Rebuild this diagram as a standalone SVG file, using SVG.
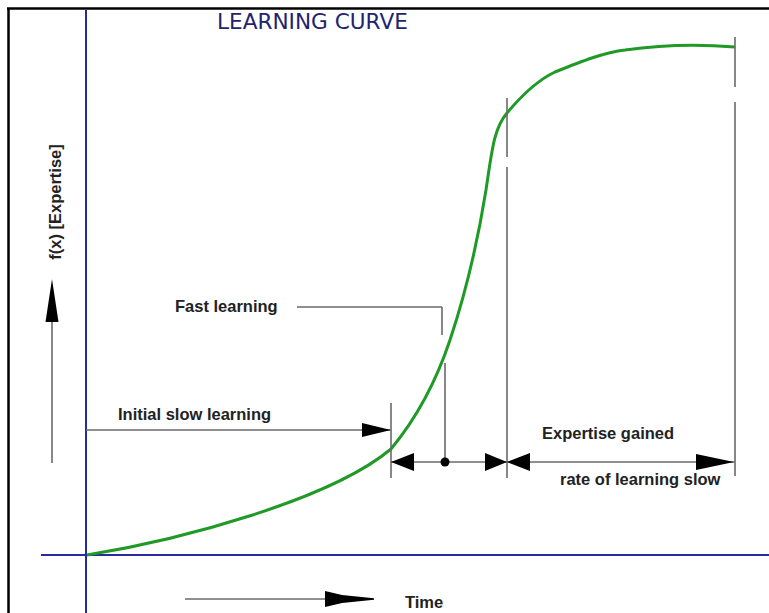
<svg xmlns="http://www.w3.org/2000/svg" width="769" height="613" viewBox="0 0 769 613">
<style>
.lbl{font-family:"Liberation Sans",Arial,sans-serif;font-weight:bold;font-size:16.5px;fill:#222}
.title{font-family:"DejaVu Sans",Verdana,sans-serif;font-size:21.6px;fill:#23236e}
.gl{stroke:#6a6a6a;stroke-width:1.6;fill:none}
.ax{stroke:#2a2aa0;stroke-width:2;fill:none}
.ah{fill:#000}
</style>
<rect width="769" height="613" fill="#fff"/>
<g id="frame">
<line x1="7" y1="8.5" x2="769" y2="8.5" stroke="#000" stroke-width="2.5"/>
<line x1="8.5" y1="8" x2="8.5" y2="613" stroke="#000" stroke-width="2.5"/>
</g>
<g id="axes">
<line class="ax" x1="86" y1="10" x2="86" y2="613"/>
<line class="ax" x1="41" y1="555" x2="769" y2="555"/>
</g>
<g id="title"><text class="title" x="217" y="29">LEARNING CURVE</text></g>
<g id="curve">
<path d="M87,555 C180,540 330,500 391,449 C415,420 435,385 450,340 C465,295 478,240 486,190 C492,150 494,128 507,113 C522,95 538,80 555,72 C580,62 605,52 625,50 C660,45 700,44 735,47" fill="none" stroke="#1f9a26" stroke-width="3" stroke-linejoin="round"/>
</g>
<g id="connectors">
<line class="gl" x1="52" y1="463" x2="52" y2="318"/>
<polygon class="ah" points="52,279 58.5,322 45.5,322"/>
<line class="gl" x1="185" y1="599" x2="330" y2="599"/>
<path class="ah" d="M325,591 L342,595 L374,598.3 L374,599.7 L342,603 L325,607 Z"/>
<line class="gl" x1="86" y1="430" x2="391" y2="430"/>
<polygon class="ah" points="391,430 362,423 362,437"/>
<line class="gl" x1="297" y1="307" x2="442" y2="307"/>
<line class="gl" x1="442" y1="307" x2="442" y2="335"/>
<line class="gl" x1="445" y1="363" x2="445" y2="462"/>
<line class="gl" x1="391" y1="403" x2="391" y2="478"/>
<line class="gl" x1="507" y1="98" x2="507" y2="157"/>
<line class="gl" x1="507" y1="167" x2="507" y2="478"/>
<line class="gl" x1="735" y1="37" x2="735" y2="87"/>
<line class="gl" x1="735" y1="102" x2="735" y2="476"/>
<line class="gl" x1="391" y1="462" x2="735" y2="462"/>
<polygon class="ah" points="391,462 414,453 414,471"/>
<polygon class="ah" points="507,462 485,453 485,471"/>
<polygon class="ah" points="507,462 530,453 530,471"/>
<polygon class="ah" points="734,462 696,454 696,470"/>
<circle class="ah" cx="445" cy="462" r="4.5"/>
</g>
<g id="labels">
<text class="lbl" transform="translate(61,202) rotate(-90)" text-anchor="middle">f(x) [Expertise]</text>
<text class="lbl" x="175" y="312">Fast learning</text>
<text class="lbl" x="118" y="420">Initial slow learning</text>
<text class="lbl" x="542" y="439">Expertise gained</text>
<text class="lbl" x="560" y="485">rate of learning slow</text>
<text class="lbl" x="405" y="608">Time</text>
</g>
</svg>
